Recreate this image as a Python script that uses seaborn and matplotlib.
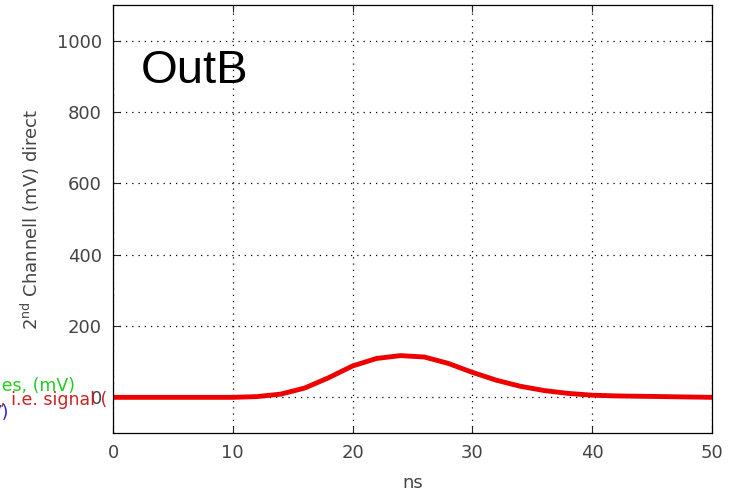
import matplotlib
matplotlib.use("Agg")
import matplotlib.pyplot as plt
import seaborn as sns
import pandas as pd

# Data
ns = [0, 2, 4, 6, 8, 10, 12, 14, 16, 18, 20, 22, 24, 26, 28, 30, 32, 34, 36, 38, 40, 42, 44, 46, 48, 50]
out_b = [0, 0, 0, 0, 0, 0, 2, 9, 26, 55, 88, 109, 117, 113, 95, 70, 48, 31, 19, 11, 6, 4, 3, 2, 1, 0]
x_ticks = [0, 10, 20, 30, 40, 50]
y_ticks = [0, 200, 400, 600, 800, 1000]

df = pd.DataFrame({"ns": ns, "mV": out_b})

sns.set_style("ticks")
plt.rcParams['font.family'] = ['DejaVu Sans']

fig = plt.figure(figsize=(7.31, 4.92), dpi=100)
ax = fig.add_axes([113 / 731, 59 / 492, 599 / 731, 428 / 492])

sns.lineplot(data=df, x="ns", y="mV", color="#ee0000", lw=3.5, ax=ax)

ax.set_xlim(0, 50)
ax.set_ylim(-100, 1100)
ax.set_xticks(x_ticks)
ax.set_yticks(y_ticks)
ax.grid(True, linestyle=(0, (1, 4)), color="black", lw=0.9)
ax.tick_params(direction="in", length=5, top=True, right=True, labelsize=13,
               labelcolor="#444444", pad=8)
for s in ax.spines.values():
    s.set_color("black")
    s.set_linewidth(0.9)

ax.set_xlabel("ns", fontsize=13, color="#444444")
ax.xaxis.set_label_coords(0.5, -0.095)
ax.set_ylabel(r"2$^{\rm nd}$ Channell (mV) direct", fontsize=13, color="#444444")
ax.yaxis.set_label_coords(-0.118, 0.5)

ax.text(2.3, 880, "OutB", fontsize=34, color="black", family="Liberation Sans")

# clipped legend fragments on the left
fig.text(75 / 731, 1 - 386 / 492, "Voltages, (mV)", color="#22cc22", fontsize=12.5,
         ha="right", va="center")
fig.text(107 / 731, 1 - 400 / 492, "Pulse, i.e. signal (", color="#cc2222", fontsize=12.5,
         ha="right", va="center")
fig.text(9 / 731, 1 - 413 / 492, "(mV)", color="#2222cc", fontsize=12.5,
         ha="right", va="center")

fig.savefig("out.png", dpi=100)
